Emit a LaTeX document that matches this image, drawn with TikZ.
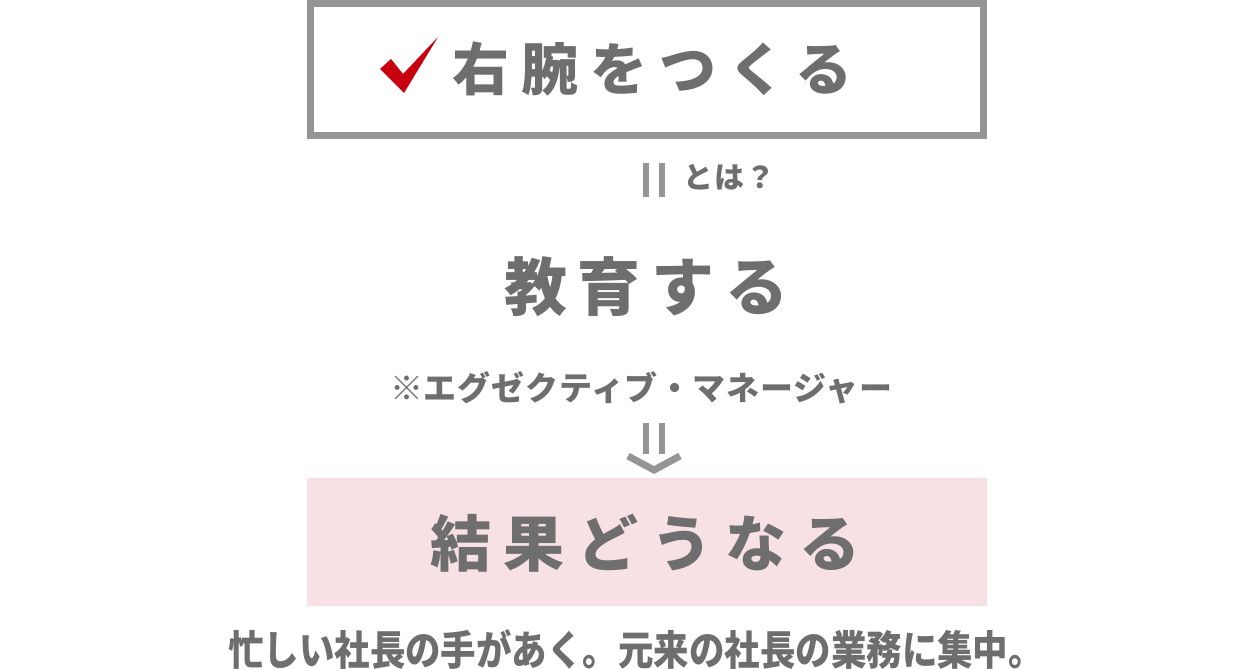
\documentclass[tikz,border=0pt]{standalone}
\usepackage{fontspec}
\newfontfamily\jpfont{Noto Sans CJK JP}
\definecolor{txtgray}{HTML}{6E6E6E}
\definecolor{linegray}{HTML}{959595}
\definecolor{pinkbg}{HTML}{F7E1E5}
\definecolor{checkred}{HTML}{C8000F}
\newcommand{\jpsize}[2]{\fontsize{#1}{#1}\selectfont\addfontfeature{LetterSpace=#2}}
\begin{document}
\begin{tikzpicture}[x=1pt,y=-1pt]
        \useasboundingbox (0,0) rectangle (1245,669);
        % boxes
        \draw[linegray,line width=7pt] (310.5,3.5) rectangle (983.5,135.5);
        \fill[pinkbg] (307,478) rectangle (987,606);
        \fill[checkred] (380,69) -- (391,59) -- (403,74) -- (438,37) -- (404,93) -- cycle;
        \begin{scope}[every node/.style={font=\jpfont\bfseries,text=txtgray,inner sep=0pt,anchor=west}]
          \node (title) at (452,69) {\jpsize{57}{21}右腕をつくる};
          \node (towa) at (683,177) {\jpsize{30}{4}とは？};
          \node (kyoiku) at (504,287) {\jpsize{63}{17}教育する};
          \node (note) at (390,388) {\jpsize{33}{2.5}※エグゼクティブ・マネージャー};
          \node (kekka) at (430,543) {\jpsize{61}{21}結果どうなる};
          \node (result) at (228,649) {\scalebox{0.865}[1]{\jpsize{41}{0}忙しい社長の手があく。元来の社長の業務に集中。}};
        \end{scope}
        % equal signs and arrow
        \begin{scope}[linegray,line width=6pt]
          \draw (646,163) -- (646,197);
          \draw (662,163) -- (662,197);
          \draw (646,423) -- (646,454);
          \draw (662,423) -- (662,454);
          \draw[line width=7pt] (628,456) -- (654,470) -- (680,456);
        \end{scope}
      \end{tikzpicture}
\end{document}
